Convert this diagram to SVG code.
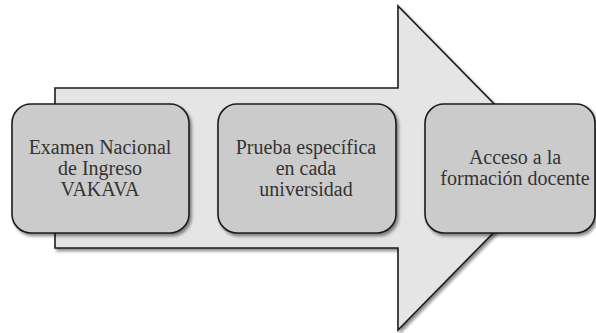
<svg xmlns="http://www.w3.org/2000/svg" width="596" height="333" viewBox="0 0 596 333">
  <defs>
    <filter id="shadow" x="-10%" y="-10%" width="130%" height="130%">
      <feDropShadow dx="2" dy="2.5" stdDeviation="1.6" flood-color="#000" flood-opacity="0.45"/>
    </filter>
  </defs>
  <rect width="596" height="333" fill="#ffffff"/>
  <g id="connectors">
    <path fill="#e5e5e5" stroke="#1c1c1c" stroke-width="1.6" filter="url(#shadow)" d="M55,88 L398,88 L398,6 L557,168 L398,330 L398,248 L55,248 Z"/>
  </g>
  <g id="node1">
    <rect fill="#cbcbcb" stroke="#1c1c1c" stroke-width="1.6" filter="url(#shadow)" x="12" y="104" width="177" height="129" rx="19" ry="19"/>
    <text font-family="Times New Roman" font-size="20" fill="#333333" text-anchor="middle" x="100" y="154">Examen Nacional</text>
    <text font-family="Times New Roman" font-size="20" fill="#333333" text-anchor="middle" x="100" y="175">de Ingreso</text>
    <text font-family="Times New Roman" font-size="20" fill="#333333" text-anchor="middle" x="100" y="196">VAKAVA</text>
  </g>
  <g id="node2">
    <rect fill="#cbcbcb" stroke="#1c1c1c" stroke-width="1.6" filter="url(#shadow)" x="218" y="104" width="178" height="129" rx="19" ry="19"/>
    <text font-family="Times New Roman" font-size="20" fill="#333333" text-anchor="middle" x="306" y="153.5">Prueba específica</text>
    <text font-family="Times New Roman" font-size="20" fill="#333333" text-anchor="middle" x="306" y="175">en cada</text>
    <text font-family="Times New Roman" font-size="20" fill="#333333" text-anchor="middle" x="306" y="196">universidad</text>
  </g>
  <g id="node3">
    <rect fill="#cbcbcb" stroke="#1c1c1c" stroke-width="1.6" filter="url(#shadow)" x="425" y="104" width="170" height="129" rx="19" ry="19"/>
    <text font-family="Times New Roman" font-size="20" fill="#333333" text-anchor="middle" x="515" y="163.5">Acceso a la</text>
    <text font-family="Times New Roman" font-size="20" fill="#333333" text-anchor="middle" x="515" y="184.5">formación docente</text>
  </g>
</svg>
